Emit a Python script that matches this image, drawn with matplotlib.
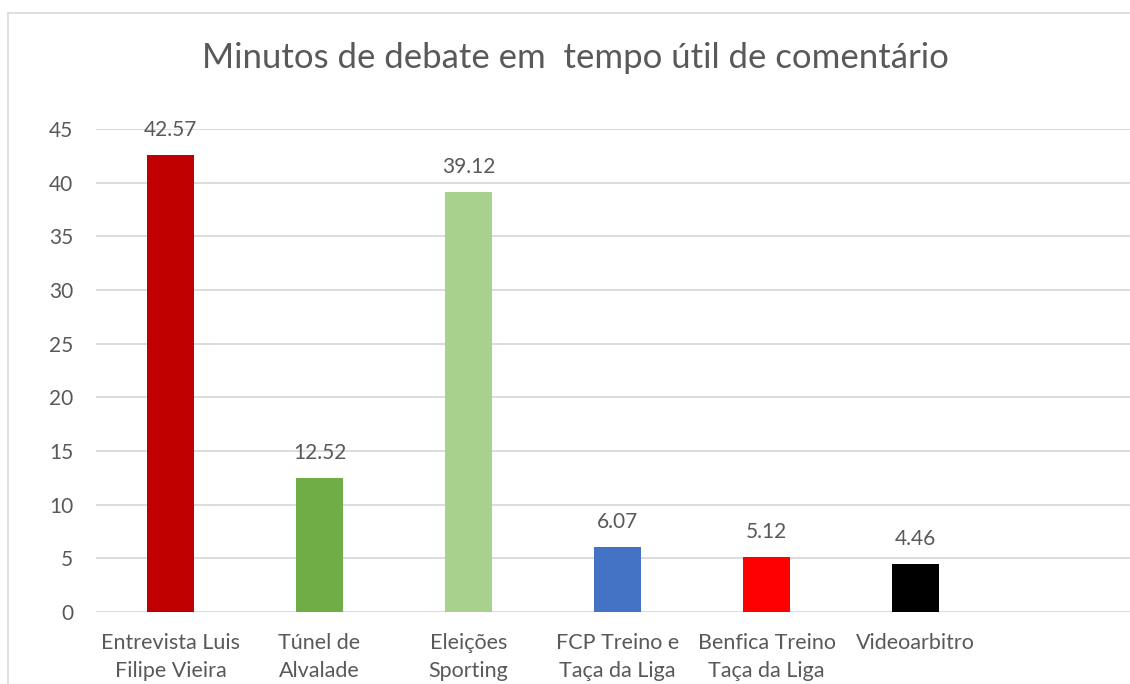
import matplotlib
matplotlib.use("Agg")
import matplotlib.pyplot as plt
from matplotlib.patches import Rectangle

categories = ["Entrevista Luis\nFilipe Vieira", "Túnel de\nAlvalade", "Eleições\nSporting",
              "FCP Treino e\nTaça da Liga", "Benfica Treino\nTaça da Liga", "Videoarbitro"]
values = [42.57, 12.52, 39.12, 6.07, 5.12, 4.46]
colors = ["#C00000", "#70AD47", "#A9D18E", "#4472C4", "#FF0000", "#000000"]
labels = ["42.57", "12.52", "39.12", "6.07", "5.12", "4.46"]
yticks = [0, 5, 10, 15, 20, 25, 30, 35, 40, 45]
title = "Minutos de debate em  tempo útil de comentário"

plt.rcParams['font.family'] = ['Lato', 'DejaVu Sans']
W, H = 1130, 684
fig = plt.figure(figsize=(W / 100, H / 100), dpi=100)
txt = "#595959"
grid = "#D9D9D9"

# chart frame
fig.add_artist(Rectangle((8 / W, -0.1), 1.2, (H - 13) / H + 0.1, transform=fig.transFigure,
                         fill=False, edgecolor=grid, linewidth=1.2))

ax = fig.add_axes([96 / W, (H - 612) / H, 1043 / W, 483 / H])
x = list(range(len(categories)))
ax.bar(x, values, width=0.32, color=colors, zorder=3)
ax.set_xlim(-0.5, 6.5)
ax.set_ylim(0, 45)
ax.set_yticks(yticks)
ax.set_yticklabels([str(v) for v in yticks], color=txt, fontsize=15)
ax.set_xticks(x)
ax.set_xticklabels(categories, color=txt, fontsize=15.5, linespacing=1.5)
ax.tick_params(axis='both', length=0)
ax.tick_params(axis='y', pad=16.5)
ax.tick_params(axis='x', pad=15)
ax.grid(axis='y', color=grid, linewidth=1.3, zorder=0)
for s in ax.spines.values():
    s.set_visible(False)
for xi, v, l in zip(x, values, labels):
    ax.annotate(l, (xi, v), xytext=(0, 18), textcoords='offset points', ha='center', va='center',
                color=txt, fontsize=15)

fig.text(575 / W, 1 - 58 / H, title, ha='center', va='center', color=txt, fontsize=25)
fig.savefig("out.png", dpi=100)
